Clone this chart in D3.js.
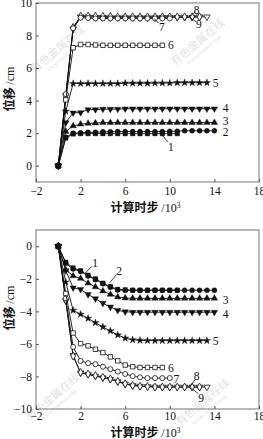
<!DOCTYPE html>
<html><head><meta charset="utf-8">
<script src="https://cdn.jsdelivr.net/npm/d3@7"></script>
<style>body{margin:0;background:#fff}svg{display:block}</style>
</head><body>
<script>
// ---- data ----
const steps = [0,0.67,1.33,2,2.67,3.33,4,4.67,5.33,6,6.67,7.33,8,8.67,9.33,10,10.67,11.33,12,12.67,13.33,14];
const xTicks = [-2,2,6,10,14,18];
const topYTicks = [0,2,4,6,8,10];
const botYTicks = [0,-2,-4,-6,-8,-10];
const seriesNames = ["1","2","3","4","5","6","7","8","9"];

const topS1 = [0,1.7,1.95,1.97,1.97,1.97,1.97,1.97,1.97,1.97,1.97,1.97,1.97,1.97,1.97,1.97,1.97];
const topS2 = [0,1.75,2.0,2.02,2.05,2.05,2.08,2.08,2.1,2.1,2.1,2.1,2.1,2.1,2.1,2.12,2.12,2.15,2.15,2.15,2.15,2.15];
const topS3 = [0,2.1,2.45,2.55,2.6,2.62,2.65,2.65,2.65,2.65,2.65,2.65,2.65,2.65,2.65,2.65,2.65,2.65,2.65,2.65,2.65,2.65];
const topS4 = [0,2.65,3.25,3.27,3.45,3.45,3.48,3.48,3.48,3.5,3.5,3.5,3.5,3.5,3.5,3.5,3.5,3.5,3.5,3.5,3.5,3.5];
const topS5 = [0,3.35,5.05,5.05,5.05,5.05,5.05,5.05,5.05,5.07,5.07,5.07,5.07,5.08,5.08,5.08,5.1,5.1,5.1,5.1,5.1];
const topS6 = [0,4.05,7.25,7.45,7.45,7.42,7.4,7.4,7.4,7.4,7.4,7.4,7.4,7.4,7.4];
const topS7 = [0,4.4,8.45,9.1,9.08,9.05,9.05,9.05,9.05,9.05,9.05,9.05,9.05,9.05,9.05,9.05];
const topS8 = [0,4.2,8.5,9.2,9.2,9.2,9.18,9.18,9.15,9.15,9.15,9.15,9.15,9.15,9.15,9.15,9.15,9.15,9.15,9.15];
const topS9 = [0,4.3,8.4,9.15,9.15,9.12,9.12,9.1,9.1,9.1,9.1,9.1,9.1,9.1,9.12,9.12,9.12,9.12,9.12,9.15,9.15];

const botS1 = [0,-0.98,-1.33,-1.5,-1.78,-2.0,-2.27,-2.48,-2.65,-2.68,-2.7,-2.7,-2.7,-2.7,-2.7,-2.7,-2.7];
const botS2 = [0,-1.05,-1.4,-1.55,-1.82,-2.05,-2.3,-2.52,-2.68,-2.7,-2.7,-2.7,-2.7,-2.7,-2.7,-2.7,-2.7,-2.7,-2.7,-2.7,-2.7,-2.7];
const botS3 = [0,-1.45,-1.82,-1.98,-2.27,-2.5,-2.75,-2.96,-3.12,-3.18,-3.2,-3.2,-3.2,-3.2,-3.2,-3.2,-3.2,-3.2,-3.2,-3.2,-3.2,-3.2];
const botS4 = [0,-1.5,-2.55,-2.65,-2.96,-3.22,-3.5,-3.73,-3.94,-4.02,-4.05,-4.05,-4.05,-4.05,-4.05,-4.05,-4.05,-4.05,-4.05,-4.05,-4.05,-4.05];
const botS5 = [0,-2.2,-3.94,-4.18,-4.43,-4.7,-4.96,-5.2,-5.45,-5.65,-5.75,-5.78,-5.8,-5.8,-5.8,-5.8,-5.8,-5.8,-5.8,-5.8,-5.8];
const botS6 = [0,-2.9,-5.33,-5.98,-6.12,-6.33,-6.53,-6.8,-7.04,-7.3,-7.4,-7.45,-7.45,-7.45,-7.45];
const botS7 = [0,-3.2,-6.18,-7.05,-7.18,-7.25,-7.4,-7.55,-7.7,-7.85,-7.98,-8.05,-8.1,-8.1,-8.1,-8.1];
const botS8 = [0,-3.3,-6.75,-7.75,-7.85,-7.95,-8.05,-8.15,-8.3,-8.45,-8.55,-8.6,-8.62,-8.65,-8.65,-8.65,-8.65,-8.65,-8.65,-8.65];
const botS9 = [0,-3.35,-6.7,-7.78,-7.88,-7.98,-8.08,-8.18,-8.32,-8.47,-8.56,-8.6,-8.62,-8.65,-8.65,-8.65,-8.65,-8.65,-8.65,-8.65,-8.65];

// ---- styles ----
const shapes = ["square","circle","triangle","triangleDown","star","square","circle","diamond","triangleDown"];
const filled = [true,true,true,true,true,false,false,false,false];

const W = 263, H = 439;
const svg = d3.select("body").append("svg").attr("width", W).attr("height", H);

const serif = "'Liberation Serif','DejaVu Serif',serif";
const cjk = "'Noto Sans CJK SC','Liberation Serif',serif";

function watermark(g, x, y) {
  const w = g.append("g").attr("transform", `translate(${x},${y}) rotate(-40)`).attr("fill", "#e4e4e4");
  w.append("text").attr("font-family", cjk).attr("font-size", 11).attr("text-anchor", "middle").text("有色金属在线");
  w.append("text").attr("y", 8).attr("font-family", serif).attr("font-size", 6).attr("text-anchor", "middle").text("www.cnnmol.com");
}

function symbolPath(shape) {
  const map = {square: [d3.symbolSquare, 20], circle: [d3.symbolCircle, 20], triangle: [d3.symbolTriangle, 18],
    triangleDown: [d3.symbolTriangle, 18], star: [d3.symbolStar, 16], diamond: [d3.symbolDiamond, 18]};
  const [t, s] = map[shape];
  return d3.symbol().type(t).size(s)();
}

function drawChart(cfg) {
  const {x0, x1, y0, y1, ydom, yticks, series, labels, xlabY, tickY, ylabY, wms} = cfg;
  const g = svg.append("g");
  const x = d3.scaleLinear().domain([-2, 18]).range([x0, x1]);
  const y = d3.scaleLinear().domain(ydom).range([y1, y0]);

  wms.forEach(p => watermark(g, p[0], p[1]));

  // frame
  g.append("rect").attr("x", x0).attr("y", y0).attr("width", x1 - x0).attr("height", y1 - y0)
    .attr("fill", "none").attr("stroke", "#8a8a8a").attr("stroke-width", 1.2);

  // x axis
  const xa = g.append("g").attr("transform", `translate(0,${y1})`)
    .call(d3.axisBottom(x).tickValues(xTicks).tickSizeInner(-3).tickSizeOuter(0).tickPadding(6));
  xa.select(".domain").remove();
  xa.selectAll("line").attr("stroke", "#555");
  xa.selectAll("text").attr("font-family", serif).attr("font-size", 11.5).attr("fill", "#111")
    .attr("y", tickY - y1).attr("dy", "0.35em");

  // y axis
  const ya = g.append("g").attr("transform", `translate(${x0},0)`)
    .call(d3.axisLeft(y).tickValues(yticks).tickSizeInner(-3).tickSizeOuter(0).tickPadding(6)
      .tickFormat(d => d < 0 ? "\u2212" + Math.abs(d) : String(d)));
  ya.select(".domain").remove();
  ya.selectAll("line").attr("stroke", "#555");
  ya.selectAll("text").attr("font-family", serif).attr("font-size", 11.5).attr("fill", "#111").attr("x", -4);

  // axis labels
  const xl = g.append("text").attr("x", (x0 + x1) / 2 - 2).attr("y", xlabY).attr("text-anchor", "middle")
    .attr("font-size", 12).attr("fill", "#111");
  xl.append("tspan").attr("font-family", cjk).attr("font-weight", 600).text("计算时步 ");
  xl.append("tspan").attr("font-family", serif).text("/10");
  xl.append("tspan").attr("font-family", serif).attr("font-size", 7.5).attr("dy", -4).text("3");

  const yl = g.append("text").attr("transform", `translate(14,${ylabY}) rotate(-90)`).attr("text-anchor", "middle")
    .attr("font-size", 12).attr("fill", "#111");
  yl.append("tspan").attr("font-family", cjk).attr("font-weight", 600).text("位移 ");
  yl.append("tspan").attr("font-family", serif).text("/cm");

  const line = d3.line().x((d, i) => x(steps[i])).y(d => y(d));
  // draw series from last to first so 1 is on top
  for (let k = series.length - 1; k >= 0; k--) {
    const vals = series[k];
    g.append("path").datum(vals).attr("d", line).attr("fill", "none").attr("stroke", "#111").attr("stroke-width", 0.9);
    const p = symbolPath(shapes[k]);
    g.selectAll(null).data(vals).enter().append("path")
      .attr("d", p)
      .attr("transform", (d, i) => `translate(${x(steps[i])},${y(d)})` + (shapes[k] === "triangleDown" ? " rotate(180)" : ""))
      .attr("fill", filled[k] ? "#111" : "#fff")
      .attr("stroke", "#111").attr("stroke-width", filled[k] ? 0.4 : 0.8);
  }

  // series labels with optional leader lines (in data coordinates)
  labels.forEach(l => {
    if (l.from) {
      g.append("line").attr("x1", x(l.from[0])).attr("y1", y(l.from[1]))
        .attr("x2", x(l.to[0])).attr("y2", y(l.to[1])).attr("stroke", "#111").attr("stroke-width", 0.8);
    }
    g.append("text").attr("x", x(l.at[0])).attr("y", y(l.at[1])).attr("dy", "0.35em")
      .attr("text-anchor", "middle").attr("font-family", serif).attr("font-size", 11.5).attr("fill", "#111").text(l.name);
  });
}

drawChart({
  x0: 36, x1: 259, y0: 3, y1: 182, ydom: [-1, 10], yticks: topYTicks,
  series: [topS1, topS2, topS3, topS4, topS5, topS6, topS7, topS8, topS9],
  xlabY: 212, tickY: 191, ylabY: 89,
  wms: [[60, 52], [200, 45]],
  labels: [
    {name: seriesNames[0], at: [10.1, 1.15], from: [9.2, 1.97], to: [9.85, 1.45]},
    {name: seriesNames[1], at: [15.0, 2.05]},
    {name: seriesNames[2], at: [15.0, 2.72]},
    {name: seriesNames[3], at: [15.0, 3.55]},
    {name: seriesNames[4], at: [14.1, 5.1]},
    {name: seriesNames[5], at: [10.1, 7.4]},
    {name: seriesNames[6], at: [9.3, 8.55], from: [8.6, 9.05], to: [9.0, 8.75]},
    {name: seriesNames[7], at: [12.4, 9.6], from: [11.8, 9.15], to: [12.25, 9.45]},
    {name: seriesNames[8], at: [12.6, 8.7], from: [11.8, 9.12], to: [12.35, 8.85]}
  ]
});

drawChart({
  x0: 36, x1: 259, y0: 230, y1: 409, ydom: [-10, 1], yticks: botYTicks,
  series: [botS1, botS2, botS3, botS4, botS5, botS6, botS7, botS8, botS9],
  xlabY: 437, tickY: 416, ylabY: 308,
  wms: [[55, 400], [205, 405]],
  labels: [
    {name: seriesNames[0], at: [3.3, -1.05], from: [2.4, -1.65], to: [3.0, -1.25]},
    {name: seriesNames[1], at: [5.45, -1.5], from: [4.6, -2.25], to: [5.2, -1.75]},
    {name: seriesNames[2], at: [15.0, -3.3]},
    {name: seriesNames[3], at: [15.0, -4.15]},
    {name: seriesNames[4], at: [14.1, -5.8]},
    {name: seriesNames[5], at: [10.1, -7.45]},
    {name: seriesNames[6], at: [10.6, -8.15]},
    {name: seriesNames[7], at: [12.4, -7.98], from: [11.8, -8.65], to: [12.25, -8.2]},
    {name: seriesNames[8], at: [12.8, -9.3], from: [11.9, -8.7], to: [12.55, -9.05]}
  ]
});
</script>
</body></html>
